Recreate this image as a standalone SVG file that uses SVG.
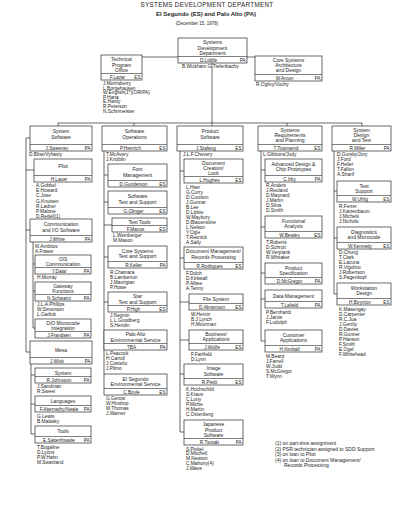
<svg xmlns="http://www.w3.org/2000/svg" width="400" height="518" viewBox="0 0 400 518">
<style>
.bx{fill:#fff;stroke:#2a2a2a;stroke-width:.7}
.sp{stroke:#2a2a2a;stroke-width:.6}
.cn{stroke:#2a2a2a;stroke-width:.7;fill:none}
text{font-family:"Liberation Sans",Arial,sans-serif;fill:#1e1e1e}
.t{font-size:5px;text-anchor:middle}
.m{font-size:4.7px;text-anchor:middle}
.c{font-size:4.6px;text-anchor:end}
.n{font-size:4.8px}
.f{font-size:5px}
</style>
<rect width="400" height="518" fill="#fff"/>
<g id="title">
<text x="207" y="7" font-size="6.3" letter-spacing="0.3" text-anchor="middle">SYSTEMS DEVELOPMENT DEPARTMENT</text>
<text x="206" y="16" font-size="6" font-weight="bold" text-anchor="middle">El Segundo (ES) and Palo Alto (PA)</text>
<text x="197" y="24.5" font-size="4.5" text-anchor="middle">(December 15, 1978)</text>
</g>
<g id="connectors" class="cn">
<path d="M142,57H255"/>
<path d="M212,63V126"/>
<path d="M58,123H362M58,123V126M134,123V126M287,123V126M362,123V126"/>
<path d="M30,138H26V352H30M26,170H34M26,230H30"/>
<path d="M33,242V328H35M33,264H35M33,291H35"/>
<path d="M31,364V434H35M31,375H35M31,404H35"/>
<path d="M104,151V374M104,175H108M104,202H108M104,225H112M104,257H108M104,302H108"/>
<path d="M180,151V432H184M180,171H184M180,258H184M180,302H189M180,340H189M180,374H184"/>
<path d="M261,151V341H265M261,170H265M261,227H265M261,273H265M261,299H265"/>
<path d="M334,151V294H337M334,191H337M334,238H337"/>
</g>
<g id="n-sdd"><rect class="bx" x="178" y="38" width="69" height="25"/><text class="t" x="212.5" y="44">Systems</text><text class="t" x="212.5" y="49.5">Development</text><text class="t" x="212.5" y="55">Department</text><line class="sp" x1="178" y1="56.5" x2="247" y2="56.5"/><text class="m" x="208.5" y="61.5">D.Liddle</text><text class="c" x="245.5" y="61.5">PA</text>
<text class="n" x="182" y="68">B.Wickham  G.Tiefenbachy</text></g>
<g id="n-tpo"><rect class="bx" x="101" y="55" width="41" height="25"/><text class="t" x="121.5" y="61">Technical</text><text class="t" x="121.5" y="66.5">Program</text><text class="t" x="121.5" y="72">Office</text><line class="sp" x1="101" y1="73.5" x2="142" y2="73.5"/><text class="m" x="117.5" y="78.5">F.Lazar</text><text class="c" x="140.5" y="78.5">ES</text>
<text class="n"><tspan x="103" y="85">J.Morrisberry</tspan><tspan x="103" y="89.6">L.Borgehausen</tspan><tspan x="103" y="94.2">W.English(1*)(OR/PA)</tspan><tspan x="103" y="98.8">P.Harta</tspan><tspan x="103" y="103.4">E.Hardy</tspan><tspan x="103" y="108">R.Peterson</tspan><tspan x="103" y="112.6">N.Schirmeister</tspan></text></g>
<g id="n-core"><rect class="bx" x="255" y="56" width="67" height="25"/><text class="t" x="288.5" y="61.5">Core Systems</text><text class="t" x="288.5" y="66.5">Architecture</text><text class="t" x="288.5" y="71.5">and Design</text><line class="sp" x1="255" y1="74.5" x2="322" y2="74.5"/><text class="m" x="284.5" y="79.5">W.Amon</text><text class="c" x="320.5" y="79.5">PA</text>
<text class="n" x="256" y="86">R.Ogilvy/Vuchy</text></g>

<g id="n-syssw"><rect class="bx" x="30" y="126" width="62" height="25"/><text class="t" x="61" y="133">System</text><text class="t" x="61" y="138.5">Software</text><line class="sp" x1="30" y1="144.5" x2="92" y2="144.5"/><text class="m" x="57" y="149.5">J.Sweeney</text><text class="c" x="90.5" y="149.5">PA</text>
<text class="n" x="29" y="156">D.Bliss/Vyhasty</text></g>
<g id="n-pilot"><rect class="bx" x="34" y="159" width="58" height="23"/><text class="t" x="63" y="168">Pilot</text><line class="sp" x1="34" y1="175.5" x2="92" y2="175.5"/><text class="m" x="59" y="180.5">H.Lauer</text><text class="c" x="90.5" y="180.5">PA</text>
<text class="n"><tspan x="36" y="187">A.Gobbel</tspan><tspan x="36" y="192.2">E.Howard</tspan><tspan x="36" y="197.4">C.Jose</tspan><tspan x="36" y="202.6">G.Knutsen</tspan><tspan x="36" y="207.8">R.Ladner</tspan><tspan x="36" y="213">P.Malone</tspan><tspan x="36" y="218.2">D.Redell(1)</tspan></text></g>
<g id="n-comm"><rect class="bx" x="30" y="219" width="62" height="23"/><text class="t" x="61" y="226">Communication</text><text class="t" x="61" y="231.5">and I/O Software</text><line class="sp" x1="30" y1="235.5" x2="92" y2="235.5"/><text class="m" x="57" y="240.5">J.White</text><text class="c" x="90.5" y="240.5">PA</text>
<text class="n"><tspan x="35" y="247.5">M.Ambitos</tspan><tspan x="35" y="252.5">A.Fraser</tspan></text></g>
<g id="n-ois"><rect class="bx" x="35" y="255" width="56" height="19"/><text class="t" x="63" y="260.5">OIS</text><text class="t" x="63" y="265.5">Communication</text><line class="sp" x1="35" y1="267.5" x2="91" y2="267.5"/><text class="m" x="59" y="272.5">Y.Dalal</text><text class="c" x="89.5" y="272.5">PA</text>
<text class="n" x="37" y="279">H.Murray</text></g>
<g id="n-gateway"><rect class="bx" x="35" y="282" width="56" height="19"/><text class="t" x="63" y="287.5">Gateway</text><text class="t" x="63" y="292.5">Functions</text><line class="sp" x1="35" y1="294.5" x2="91" y2="294.5"/><text class="m" x="59" y="299.5">N.Schwartz</text><text class="c" x="89.5" y="299.5">PA</text>
<text class="n"><tspan x="37" y="306">J.L.A.Phillips</tspan><tspan x="37" y="311">W.Simonson</tspan><tspan x="37" y="316">L.Garlick</tspan></text></g>
<g id="n-dio"><rect class="bx" x="35" y="319" width="56" height="19"/><text class="t" x="63" y="324.5">DIO Microcode</text><text class="t" x="63" y="329.5">Integration</text><line class="sp" x1="35" y1="331.5" x2="91" y2="331.5"/><text class="m" x="59" y="336.5">J.Frandsen</text><text class="c" x="89.5" y="336.5">PA</text></g>
<g id="n-mesa"><rect class="bx" x="30" y="341" width="62" height="23"/><text class="t" x="61" y="351.5">Mesa</text><line class="sp" x1="30" y1="357.5" x2="92" y2="357.5"/><text class="m" x="57" y="362.5">J.Wick</text><text class="c" x="90.5" y="362.5">PA</text></g>
<g id="n-system"><rect class="bx" x="35" y="368" width="56" height="15"/><text class="t" x="63" y="374.5">System</text><line class="sp" x1="35" y1="376.5" x2="91" y2="376.5"/><text class="m" x="59" y="381.5">R.Johnsson</text><text class="c" x="89.5" y="381.5">PA</text>
<text class="n"><tspan x="37" y="388">J.Sandman</tspan><tspan x="37" y="393">R.Sweet</tspan></text></g>
<g id="n-languages"><rect class="bx" x="35" y="396" width="56" height="16"/><text class="t" x="63" y="403">Languages</text><line class="sp" x1="35" y1="405.5" x2="91" y2="405.5"/><text class="m" x="59" y="410.5">F.Abernathy/Neale</text><text class="c" x="89.5" y="410.5">PA</text>
<text class="n"><tspan x="37" y="417.5">G.Lewis</tspan><tspan x="37" y="422.5">B.Malasky</tspan></text></g>
<g id="n-tools"><rect class="bx" x="35" y="426" width="56" height="17"/><text class="t" x="63" y="433">Tools</text><line class="sp" x1="35" y1="436.5" x2="91" y2="436.5"/><text class="m" x="59" y="441.5">E.Satterthwaite</text><text class="c" x="89.5" y="441.5">PA</text>
<text class="n"><tspan x="37" y="448.5">T.Bogaline</tspan><tspan x="37" y="453.5">D.Lyons</tspan><tspan x="37" y="458.5">P.W.Hahn</tspan><tspan x="37" y="463.5">M.Swanland</tspan></text></g>

<g id="n-swops"><rect class="bx" x="102" y="126" width="65" height="25"/><text class="t" x="134.5" y="133">Software</text><text class="t" x="134.5" y="138.5">Operations</text><line class="sp" x1="102" y1="144.5" x2="167" y2="144.5"/><text class="m" x="130.5" y="149.5">P.Heinrich</text><text class="c" x="165.5" y="149.5">ES</text>
<text class="n"><tspan x="106" y="156">T.McAvery</tspan><tspan x="106" y="161">J.Knoblin</tspan></text></g>
<g id="n-font"><rect class="bx" x="108" y="164" width="59" height="23"/><text class="t" x="137.5" y="171">Font</text><text class="t" x="137.5" y="176.5">Management</text><line class="sp" x1="108" y1="180.5" x2="167" y2="180.5"/><text class="m" x="133.5" y="185.5">D.Gunderson</text><text class="c" x="165.5" y="185.5">ES</text></g>
<g id="n-swts"><rect class="bx" x="108" y="191" width="59" height="23"/><text class="t" x="137.5" y="198">Software</text><text class="t" x="137.5" y="203.5">Test and Support</text><line class="sp" x1="108" y1="207.5" x2="167" y2="207.5"/><text class="m" x="133.5" y="212.5">G.Olinger</text><text class="c" x="165.5" y="212.5">ES</text></g>
<g id="n-testtools"><rect class="bx" x="112" y="218" width="55" height="14"/><text class="t" x="139.5" y="224">Test Tools</text><line class="sp" x1="112" y1="225.5" x2="167" y2="225.5"/><text class="m" x="135.5" y="230.5">F.Mance</text><text class="c" x="165.5" y="230.5">ES</text>
<text class="n"><tspan x="113" y="237">L.Weinberger</tspan><tspan x="113" y="242">M.Mason</tspan></text></g>
<g id="n-corets"><rect class="bx" x="108" y="246" width="59" height="22"/><text class="t" x="137.5" y="252.5">Core Systems</text><text class="t" x="137.5" y="258">Test and Support</text><line class="sp" x1="108" y1="261.5" x2="167" y2="261.5"/><text class="m" x="133.5" y="266.5">R.Keller</text><text class="c" x="165.5" y="266.5">PA</text>
<text class="n"><tspan x="110" y="274">R.Chamara</tspan><tspan x="110" y="279">B.Lamberton</tspan><tspan x="110" y="284">J.Mavrigian</tspan><tspan x="110" y="289">P.Howe</tspan></text></g>
<g id="n-start"><rect class="bx" x="108" y="292" width="59" height="20"/><text class="t" x="137.5" y="298">Star</text><text class="t" x="137.5" y="303.5">Test and Support</text><line class="sp" x1="108" y1="305.5" x2="167" y2="305.5"/><text class="m" x="133.5" y="310.5">P.High</text><text class="c" x="165.5" y="310.5">ES</text>
<text class="n"><tspan x="110" y="317">J.Negron</tspan><tspan x="110" y="322">L.L.Goodberg</tspan><tspan x="110" y="327">S.Hendin</tspan></text></g>
<g id="n-paenv"><rect class="bx" x="104" y="330" width="63" height="20"/><text class="t" x="135.5" y="336">Palo Alto</text><text class="t" x="135.5" y="341.5">Environmental Service</text><line class="sp" x1="104" y1="343.5" x2="167" y2="343.5"/><text class="m" x="131.5" y="348.5">TBA</text><text class="c" x="165.5" y="348.5">PA</text>
<text class="n"><tspan x="106" y="355">L.Peacock</tspan><tspan x="106" y="360">H.Carroll</tspan><tspan x="106" y="365">J.Costello</tspan><tspan x="106" y="370">J.Pilmo</tspan></text></g>
<g id="n-esenv"><rect class="bx" x="104" y="374" width="63" height="21"/><text class="t" x="135.5" y="380.5">El Segundo</text><text class="t" x="135.5" y="386">Environmental Service</text><line class="sp" x1="104" y1="388.5" x2="167" y2="388.5"/><text class="m" x="131.5" y="393.5">C.Boyle</text><text class="c" x="165.5" y="393.5">ES</text>
<text class="n"><tspan x="106" y="400">G.Gerow</tspan><tspan x="106" y="405">W.Hindrop</tspan><tspan x="106" y="410">M.Thomas</tspan><tspan x="106" y="415">J.Warner</tspan></text></g>

<g id="n-prodsw"><rect class="bx" x="177" y="126" width="66" height="25"/><text class="t" x="210" y="133">Product</text><text class="t" x="210" y="138.5">Software</text><line class="sp" x1="177" y1="144.5" x2="243" y2="144.5"/><text class="m" x="206" y="149.5">J.Stafang</text><text class="c" x="241.5" y="149.5">ES</text>
<text class="n" x="183" y="156">J.L.F.Chevery</text></g>
<g id="n-doccre"><rect class="bx" x="184" y="159" width="59" height="24"/><text class="t" x="213.5" y="165">Document</text><text class="t" x="213.5" y="170">Creation/</text><text class="t" x="213.5" y="175">Lock</text><line class="sp" x1="184" y1="176.5" x2="243" y2="176.5"/><text class="m" x="209.5" y="181.5">L.Hughes</text><text class="c" x="241.5" y="181.5">ES</text>
<text class="n"><tspan x="186" y="188.5">L.Hser</tspan><tspan x="186" y="193.5">G.Curry</tspan><tspan x="186" y="198.5">D.Coulson</tspan><tspan x="186" y="203.5">J.Gunnar</tspan><tspan x="186" y="208.5">B.Lee</tspan><tspan x="186" y="213.5">D.Lipkie</tspan><tspan x="186" y="218.5">W.Maybury</tspan><tspan x="186" y="223.5">D.Blauenstine</tspan><tspan x="186" y="228.5">L.Nelson</tspan><tspan x="186" y="233.5">Y.Ogle</tspan><tspan x="186" y="238.5">T.Resnick</tspan><tspan x="186" y="243.5">A.Sally</tspan></text></g>
<g id="n-docmgmt"><rect class="bx" x="184" y="247" width="59" height="22"/><text class="t" x="213.5" y="253">Document Management/</text><text class="t" x="213.5" y="258.5">Records Processing</text><line class="sp" x1="184" y1="262.5" x2="243" y2="262.5"/><text class="m" x="209.5" y="267.5">R.Rodrigues</text><text class="c" x="241.5" y="267.5">ES</text>
<text class="n"><tspan x="186" y="274.5">F.Dolch</tspan><tspan x="186" y="279.5">D.Kirkwall</tspan><tspan x="186" y="284.5">P.Albee</tspan><tspan x="186" y="289.5">A.Tenny</tspan></text></g>
<g id="n-filesys"><rect class="bx" x="189" y="294" width="54" height="16"/><text class="t" x="216" y="301">File System</text><line class="sp" x1="189" y1="303.5" x2="243" y2="303.5"/><text class="m" x="212" y="308.5">D.Abramson</text><text class="c" x="241.5" y="308.5">ES</text>
<text class="n"><tspan x="191" y="315.5">W.Heintz</tspan><tspan x="191" y="320.5">B.J.Lynch</tspan><tspan x="191" y="325.5">H.Moorman</tspan></text></g>
<g id="n-busapps"><rect class="bx" x="189" y="330" width="54" height="20"/><text class="t" x="216" y="335.5">Business/</text><text class="t" x="216" y="341">Applications</text><line class="sp" x1="189" y1="343.5" x2="243" y2="343.5"/><text class="m" x="212" y="348.5">J.Wolfe</text><text class="c" x="241.5" y="348.5">ES</text>
<text class="n"><tspan x="191" y="355.5">F.Fairfield</tspan><tspan x="191" y="360.5">D.Lynn</tspan></text></g>
<g id="n-image"><rect class="bx" x="184" y="364" width="59" height="21"/><text class="t" x="213.5" y="370">Image</text><text class="t" x="213.5" y="375.5">Software</text><line class="sp" x1="184" y1="378.5" x2="243" y2="378.5"/><text class="m" x="209.5" y="383.5">R.Pettit</text><text class="c" x="241.5" y="383.5">ES</text>
<text class="n"><tspan x="186" y="391">K.Hochschild</tspan><tspan x="186" y="396">S.Kraus</tspan><tspan x="186" y="401">C.Luny</tspan><tspan x="186" y="406">P.Miche</tspan><tspan x="186" y="411">H.Martin</tspan><tspan x="186" y="416">C.Ostenberg</tspan></text></g>
<g id="n-japanese"><rect class="bx" x="184" y="420" width="59" height="25"/><text class="t" x="213.5" y="426">Japanese</text><text class="t" x="213.5" y="431.5">Product</text><text class="t" x="213.5" y="437">Software</text><line class="sp" x1="184" y1="438.5" x2="243" y2="438.5"/><text class="m" x="209.5" y="443.5">R.Tsutaki</text><text class="c" x="241.5" y="443.5">PA</text>
<text class="n"><tspan x="186" y="450.5">S.Pinkel</tspan><tspan x="186" y="455.3">D.Mitchell</tspan><tspan x="186" y="460.1">M.Newton</tspan><tspan x="186" y="464.9">C.Mahony(4)</tspan><tspan x="186" y="469.7">J.Wave</tspan></text></g>

<g id="n-sysreq"><rect class="bx" x="258" y="126" width="64" height="25"/><text class="t" x="290" y="132">Systems</text><text class="t" x="290" y="137">Requirements</text><text class="t" x="290" y="142">and Planning</text><line class="sp" x1="258" y1="144.5" x2="322" y2="144.5"/><text class="m" x="286" y="149.5">T.Townsend</text><text class="c" x="320.5" y="149.5">ES</text>
<text class="n" x="263" y="156">L.Gibbons/Judy</text></g>
<g id="n-advdes"><rect class="bx" x="265" y="159" width="57" height="23"/><text class="t" x="293.5" y="165.5">Advanced Design &amp;</text><text class="t" x="293.5" y="171">Chip Prototypes</text><line class="sp" x1="265" y1="175.5" x2="322" y2="175.5"/><text class="m" x="289.5" y="180.5">C.Irby</text><text class="c" x="320.5" y="180.5">PA</text>
<text class="n"><tspan x="266" y="187">R.Anders</tspan><tspan x="266" y="192">J.Reuland</tspan><tspan x="266" y="197">D.Maynard</tspan><tspan x="266" y="202">J.Martin</tspan><tspan x="266" y="207">D.Silva</tspan><tspan x="266" y="212">D.Smith</tspan></text></g>
<g id="n-func"><rect class="bx" x="265" y="216" width="57" height="22"/><text class="t" x="293.5" y="222.5">Functional</text><text class="t" x="293.5" y="228">Analysis</text><line class="sp" x1="265" y1="231.5" x2="322" y2="231.5"/><text class="m" x="289.5" y="236.5">W.Bewley</text><text class="c" x="320.5" y="236.5">ES</text>
<text class="n"><tspan x="266" y="243.5">T.Roberts</tspan><tspan x="266" y="248.5">D.Schroit</tspan><tspan x="266" y="253.5">W.Verplank</tspan><tspan x="266" y="258.5">R.Whitaker</tspan></text></g>
<g id="n-prodspec"><rect class="bx" x="265" y="263" width="57" height="21"/><text class="t" x="293.5" y="269.5">Product</text><text class="t" x="293.5" y="275">Specification</text><line class="sp" x1="265" y1="277.5" x2="322" y2="277.5"/><text class="m" x="289.5" y="282.5">D.McGregor</text><text class="c" x="320.5" y="282.5">PA</text></g>
<g id="n-datamgmt"><rect class="bx" x="265" y="290" width="57" height="18"/><text class="t" x="293.5" y="298">Data Management</text><line class="sp" x1="265" y1="301.5" x2="322" y2="301.5"/><text class="m" x="289.5" y="306.5">T.Lafield</text><text class="c" x="320.5" y="306.5">PA</text>
<text class="n"><tspan x="266" y="314">P.Bernhardt</tspan><tspan x="266" y="319">J.Jarvis</tspan><tspan x="266" y="324">F.Ludolph</tspan></text></g>
<g id="n-custapps"><rect class="bx" x="265" y="330" width="57" height="22"/><text class="t" x="293.5" y="336.5">Customer</text><text class="t" x="293.5" y="342">Applications</text><line class="sp" x1="265" y1="345.5" x2="322" y2="345.5"/><text class="m" x="289.5" y="350.5">H.Kimball</text><text class="c" x="320.5" y="350.5">PA</text>
<text class="n"><tspan x="266" y="358">M.Beard</tspan><tspan x="266" y="363">J.Farrell</tspan><tspan x="266" y="368">W.Judd</tspan><tspan x="266" y="373">S.McGregor</tspan><tspan x="266" y="378">T.Wynn</tspan></text></g>

<g id="n-sysdes"><rect class="bx" x="332" y="126" width="59" height="25"/><text class="t" x="361.5" y="132">System</text><text class="t" x="361.5" y="137">Design</text><text class="t" x="361.5" y="142">and Test</text><line class="sp" x1="332" y1="144.5" x2="391" y2="144.5"/><text class="m" x="357.5" y="149.5">R.Miller</text><text class="c" x="389.5" y="149.5">PA</text>
<text class="n"><tspan x="337" y="156">D.Gursky/Jory</tspan><tspan x="337" y="161">J.Ford</tspan><tspan x="337" y="166">F.Heller</tspan><tspan x="337" y="171">T.Fallon</tspan><tspan x="337" y="176">A.Sharif</tspan></text></g>
<g id="n-testsup"><rect class="bx" x="337" y="181" width="54" height="21"/><text class="t" x="364" y="187.5">Test</text><text class="t" x="364" y="193">Support</text><line class="sp" x1="337" y1="195.5" x2="391" y2="195.5"/><text class="m" x="360" y="200.5">W.Uhlig</text><text class="c" x="389.5" y="200.5">ES</text>
<text class="n"><tspan x="339" y="208">R.Ferrer</tspan><tspan x="339" y="213">J.Katzenbaum</tspan><tspan x="339" y="218">J.Michels</tspan><tspan x="339" y="223">J.Nichols</tspan></text></g>
<g id="n-diag"><rect class="bx" x="337" y="227" width="54" height="22"/><text class="t" x="364" y="233.5">Diagnostics</text><text class="t" x="364" y="239">and Microcode</text><line class="sp" x1="337" y1="242.5" x2="391" y2="242.5"/><text class="m" x="360" y="247.5">W.Kennedy</text><text class="c" x="389.5" y="247.5">ES</text>
<text class="n"><tspan x="339" y="254">D.Chung</tspan><tspan x="339" y="259">T.Clark</tspan><tspan x="339" y="264">E.Lacuna</tspan><tspan x="339" y="269">R.Vigolino</tspan><tspan x="339" y="274">J.Robertson</tspan><tspan x="339" y="279">S.Pagenkopf</tspan></text></g>
<g id="n-workst"><rect class="bx" x="337" y="283" width="54" height="22"/><text class="t" x="364" y="289.5">Workstation</text><text class="t" x="364" y="295">Design</text><line class="sp" x1="337" y1="298.5" x2="391" y2="298.5"/><text class="m" x="360" y="303.5">H.Boynton</text><text class="c" x="389.5" y="303.5">ES</text>
<text class="n"><tspan x="339" y="311">K.Masengay</tspan><tspan x="339" y="316">D.Carpenter</tspan><tspan x="339" y="321">R.C.Jua</tspan><tspan x="339" y="326">J.Gerrity</tspan><tspan x="339" y="331">D.Davies</tspan><tspan x="339" y="336">R.Gunner</tspan><tspan x="339" y="341">P.Hanson</tspan><tspan x="339" y="346">F.Smith</tspan><tspan x="339" y="351">E.Ogel</tspan><tspan x="339" y="356">F.Whitehead</tspan></text></g>

<g id="footnotes">
<text class="f"><tspan x="275" y="445">(1) on part-time assignment</tspan><tspan x="275" y="450.5">(2) PSR technician assigned to SDD Support</tspan><tspan x="275" y="456">(3) on loan to Pilot</tspan><tspan x="275" y="461.5">(4) on loan to Document Management/</tspan><tspan x="284" y="467">Records Processing</tspan></text>
</g>
</svg>
